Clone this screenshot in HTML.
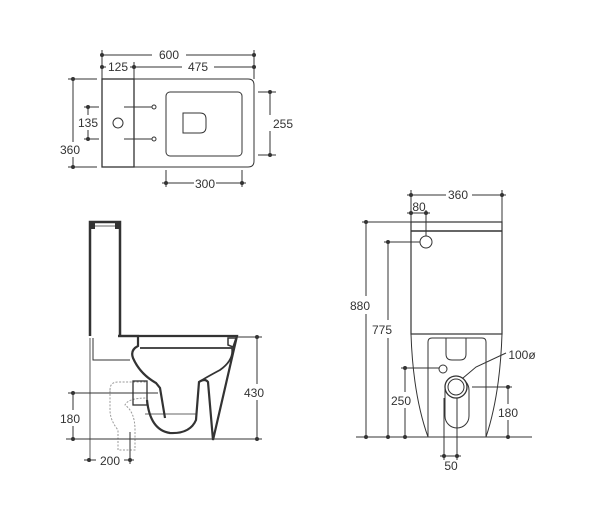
<!DOCTYPE html>
<html><head><meta charset="utf-8"><style>
html,body{margin:0;padding:0;background:#fff}
svg{display:block}
text{font-family:"Liberation Sans",sans-serif;font-size:12px;fill:#333}
</style></head><body>
<svg width="600" height="531" viewBox="0 0 600 531" xmlns="http://www.w3.org/2000/svg">
<g stroke="#333" stroke-width="1" fill="none">
<!-- TOP VIEW -->
<line x1="102" y1="55" x2="152" y2="55"/><line x1="186" y1="55" x2="254" y2="55"/>
<line x1="102" y1="67" x2="106" y2="67"/><line x1="130" y1="67" x2="134" y2="67"/>
<line x1="134" y1="67" x2="182" y2="67"/><line x1="214" y1="67" x2="254" y2="67"/>
<line x1="102" y1="50" x2="102" y2="79"/><line x1="254" y1="50" x2="254" y2="79"/>
<line x1="134" y1="62" x2="134" y2="79"/>
<rect x="102" y="79" width="32" height="88" stroke-width="1.3"/>
<path d="M134 79 H248 Q254 79 254 85 V161 Q254 167 248 167 H134" />
<rect x="166" y="92" width="76" height="64" rx="4"/>
<path d="M183 113 H200 Q206 113 206 119 V127 Q206 133 200 133 H183 Z"/>
<circle cx="118" cy="123" r="5"/>
<circle cx="154" cy="107" r="2"/><circle cx="154" cy="139" r="2"/>
<line x1="124" y1="107" x2="152" y2="107"/><line x1="124" y1="139" x2="152" y2="139"/>
<line x1="84" y1="107" x2="99" y2="107"/><line x1="84" y1="139" x2="99" y2="139"/>
<line x1="88" y1="107" x2="88" y2="115"/><line x1="88" y1="130" x2="88" y2="139"/>
<line x1="68" y1="79" x2="97" y2="79"/><line x1="68" y1="167" x2="97" y2="167"/>
<line x1="73" y1="79" x2="73" y2="142"/><line x1="73" y1="157" x2="73" y2="167"/>
<line x1="258" y1="92" x2="276" y2="92"/><line x1="258" y1="155" x2="276" y2="155"/>
<line x1="270" y1="92" x2="270" y2="115"/><line x1="270" y1="131" x2="270" y2="155"/>
<line x1="166" y1="170" x2="166" y2="187"/><line x1="242" y1="170" x2="242" y2="187"/>
<line x1="162" y1="183" x2="194" y2="183"/><line x1="216" y1="183" x2="246" y2="183"/>

<!-- SIDE VIEW -->
<path d="M90 336 V222 H120 V336" stroke-width="2.5"/>
<rect x="90" y="222" width="5" height="7" fill="#333" stroke="none"/>
<rect x="115" y="222" width="5" height="7" fill="#333" stroke="none"/>
<line x1="95" y1="226" x2="115" y2="226" stroke-width="0.8"/>
<path d="M118 336 H138 V346 Q130 350 133 358 Q140 374 156 383 L160 388 L165 418" stroke-width="2.2"/>
<path d="M118 336 H237 L213 440 L208 382 Q205 378 199 382 L196 420 Q190 434 170 433 Q150 430 147 400" stroke-width="2.2"/>
<path d="M140 348 H232 Q234 360 220 370 Q205 378 199 382" stroke-width="1.8"/>
<path d="M228 338 L236 338 L233 347 L228 345 Z" stroke-width="1.5"/>
<path d="M93 338 V360 H130" stroke-width="1"/>
<line x1="90" y1="338" x2="90" y2="462" stroke-width="0.8"/>
<path d="M110 390 Q110 382 118 382 H147 V398 Q128 398 125 405 Q135 412 135 430 V450 H118 V430 Q110 420 110 410 Z" stroke="#999" stroke-dasharray="2 1.5"/>
<rect x="133" y="381" width="14" height="24" stroke-width="1.3"/>
<line x1="68" y1="393" x2="158" y2="393"/>
<line x1="145" y1="414" x2="196" y2="414" stroke-width="0.8"/>
<line x1="66" y1="439" x2="262" y2="439"/>
<line x1="237" y1="337" x2="262" y2="337"/>
<line x1="257" y1="337" x2="257" y2="384"/><line x1="257" y1="400" x2="257" y2="439"/>
<line x1="73" y1="393" x2="73" y2="410"/><line x1="73" y1="426" x2="73" y2="439"/>
<line x1="130" y1="432" x2="130" y2="464"/>
<line x1="84" y1="460" x2="96" y2="460"/><line x1="124" y1="460" x2="134" y2="460"/>

<!-- FRONT VIEW -->
<line x1="407" y1="195" x2="446" y2="195"/><line x1="472" y1="195" x2="506" y2="195"/>
<line x1="411" y1="190" x2="411" y2="222"/><line x1="502" y1="190" x2="502" y2="222"/>
<line x1="407" y1="213" x2="430" y2="213"/><line x1="426" y1="210" x2="426" y2="236"/>
<line x1="362" y1="222" x2="411" y2="222"/>
<rect x="411" y="222" width="91" height="112" stroke-width="1.2"/>
<line x1="411" y1="231" x2="502" y2="231" stroke-width="1.5"/>
<circle cx="426" cy="242" r="6"/>
<line x1="384" y1="242" x2="420" y2="242"/>
<path d="M411 334 Q413 395 428 437 M502 334 Q500 395 486 437"/>
<path d="M428 437 V342 Q428 338 432 338 H482 Q486 338 486 342 V437"/>
<path d="M446 338 V354 Q446 360 452 360 H460 Q466 360 466 354 V338"/>
<circle cx="443" cy="369" r="4"/>
<line x1="401" y1="368" x2="439" y2="368"/>
<rect x="445" y="378" width="24" height="50" rx="12"/>
<circle cx="456" cy="387" r="11" fill="#fff" stroke-width="1.3"/>
<circle cx="456" cy="387" r="8"/>
<path d="M463 378 L476 367 L506 353"/>
<line x1="472" y1="387" x2="512" y2="387"/>
<line x1="444" y1="398" x2="444" y2="460"/><line x1="457" y1="398" x2="457" y2="460"/>
<line x1="440" y1="456" x2="461" y2="456"/>
<line x1="356" y1="437" x2="532" y2="437"/>
<line x1="366" y1="222" x2="366" y2="296"/><line x1="366" y1="314" x2="366" y2="437"/>
<line x1="388" y1="242" x2="388" y2="320"/><line x1="388" y1="338" x2="388" y2="437"/>
<line x1="405" y1="368" x2="405" y2="392"/><line x1="405" y1="408" x2="405" y2="437"/>
<line x1="508" y1="387" x2="508" y2="404"/><line x1="508" y1="420" x2="508" y2="437"/>
</g>
<g fill="#333">
<circle cx="102" cy="55" r="2"/><circle cx="254" cy="55" r="2"/>
<circle cx="102" cy="67" r="2"/><circle cx="134" cy="67" r="2"/><circle cx="254" cy="67" r="2"/>
<circle cx="88" cy="107" r="2"/><circle cx="88" cy="139" r="2"/>
<circle cx="73" cy="79" r="2"/><circle cx="73" cy="167" r="2"/>
<circle cx="270" cy="92" r="2"/><circle cx="270" cy="155" r="2"/>
<circle cx="166" cy="183" r="2"/><circle cx="242" cy="183" r="2"/>
<circle cx="73" cy="393" r="2"/><circle cx="73" cy="439" r="2"/>
<circle cx="257" cy="337" r="2"/><circle cx="257" cy="439" r="2"/>
<circle cx="89" cy="460" r="2"/><circle cx="130" cy="460" r="2"/>
<circle cx="411" cy="195" r="2"/><circle cx="502" cy="195" r="2"/>
<circle cx="411" cy="213" r="2"/><circle cx="426" cy="213" r="2"/>
<circle cx="366" cy="222" r="2"/><circle cx="366" cy="437" r="2"/>
<circle cx="388" cy="242" r="2"/><circle cx="388" cy="437" r="2"/>
<circle cx="405" cy="368" r="2"/><circle cx="405" cy="437" r="2"/>
<circle cx="508" cy="387" r="2"/><circle cx="508" cy="437" r="2"/>
<circle cx="444" cy="456" r="2"/><circle cx="457" cy="456" r="2"/>
</g>
<g text-anchor="middle">
<text x="169" y="59">600</text>
<text x="118" y="71">125</text>
<text x="198" y="71">475</text>
<text x="88" y="127">135</text>
<text x="70" y="154">360</text>
<text x="283" y="128">255</text>
<text x="205" y="188">300</text>
<text x="254" y="397">430</text>
<text x="70" y="423">180</text>
<text x="110" y="465">200</text>
<text x="458" y="199">360</text>
<text x="419" y="211">80</text>
<text x="360" y="310">880</text>
<text x="382" y="334">775</text>
<text x="401" y="405">250</text>
<text x="508" y="417">180</text>
<text x="451" y="470">50</text>
<text x="522" y="359">100ø</text>
</g>
</svg>
</body></html>
